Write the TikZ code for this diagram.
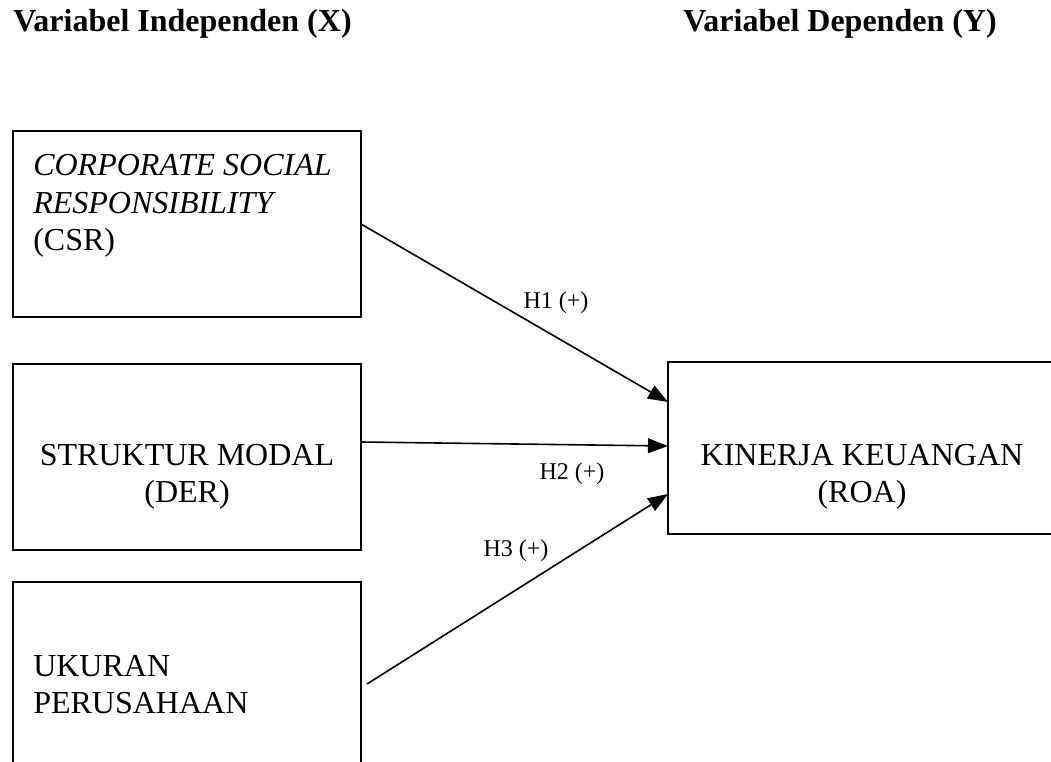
\documentclass[tikz,border=0pt]{standalone}
\usepackage{fontspec}
\setmainfont{Liberation Serif}
\usetikzlibrary{arrows.meta,calc}
\begin{document}
\begin{tikzpicture}[x=0.75pt,y=-0.75pt,
  box/.style={draw,line width=1.4pt,rectangle,inner sep=0pt,outer sep=0pt},
  txt/.style={font=\fontsize{24}{27.6}\selectfont,inner sep=0pt},
  ttl/.style={font=\fontsize{24}{27.6}\selectfont\bfseries,inner sep=0pt,anchor=base west},
  lbl/.style={font=\fontsize{18}{21}\selectfont,inner sep=0pt},
  arr/.style={line width=1.2pt,-{Triangle[length=15pt,width=11pt]}}
]
\clip (0,0) rectangle (1051,762);
\fill[white] (0,0) rectangle (1051,762);
% titles
\node[ttl] (tx) at (13,32) {Variabel Independen (X)};
\node[ttl] (ty) at (683,32) {Variabel Dependen (Y)};
% boxes
\node[box,minimum width=261pt,minimum height=139.5pt] (csr) at (187,224) {};
\node[box,minimum width=261pt,minimum height=139.5pt] (der) at (187,457) {};
\node[box,minimum width=261pt,minimum height=139.5pt] (ukr) at (187,675) {};
\node[box,minimum width=291pt,minimum height=129pt] (kin) at (862,448) {};
% box texts
\node[txt,anchor=base west] (csr1) at (33,176) {\itshape CORPORATE SOCIAL};
\node[txt,anchor=base west] (csr2) at (33,214) {\itshape RESPONSIBILITY};
\node[txt,anchor=base west] (csr3) at (33,251) {(CSR)};
\node[txt,anchor=base] (der1) at (187,466) {STRUKTUR MODAL};
\node[txt,anchor=base] (der2) at (187,503) {(DER)};
\node[txt,anchor=base west] (ukr1) at (33,677) {UKURAN};
\node[txt,anchor=base west] (ukr2) at (33,714) {PERUSAHAAN};
\node[txt,anchor=base] (kin1) at (862,466) {KINERJA KEUANGAN};
\node[txt,anchor=base] (kin2) at (862,503) {(ROA)};
% connectors
\draw[arr] (csr.east) -- ($(kin.north west)+(0,40)$);
\draw[arr] ($(der.east)+(0,-15)$) -- ($(kin.west)+(0,-2)$);
\draw[arr] ($(ukr.east)+(6,9)$) -- ($(kin.west)+(0,46)$);
% labels
\node[lbl] (h1) at (556,303) {H1 (+)};
\node[lbl] (h2) at (572,474) {H2 (+)};
\node[lbl] (h3) at (516,551) {H3 (+)};
\end{tikzpicture}
\end{document}
